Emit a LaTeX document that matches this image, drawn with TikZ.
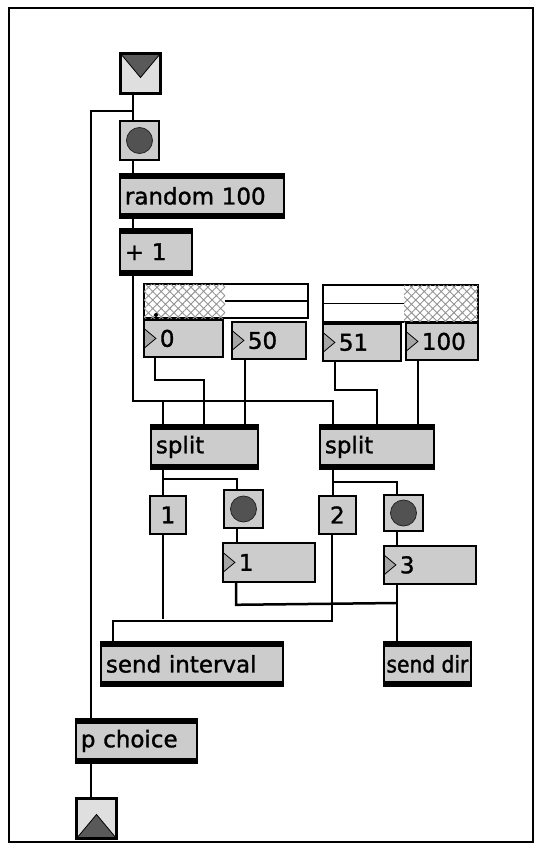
\documentclass[tikz,border=0pt]{standalone}
\usepackage{fontspec}
\setmainfont{DejaVu Sans}
\newfontfamily\patchfamily[FakeBold=1.3]{DejaVu Sans}
\newfontfamily\narrowfamily[FakeBold=1.3, FakeStretch=0.88]{DejaVu Sans}
\usepackage{tikz}
\usetikzlibrary{positioning, patterns.meta}
\newcommand{\patchfont}{\patchfamily\fontsize{23}{26}\selectfont}
\tikzset{
  wire/.style={line width=2.5pt},
  objbox/.style={rectangle, draw=black, line width=1.8pt, fill=gray!40,
                 anchor=north west, align=left, inner xsep=5pt, inner ysep=0pt,
                 minimum height=44pt, font=\patchfont,
                 path picture={
                   \fill[black] (path picture bounding box.north west) rectangle
                     ([yshift=-5pt]path picture bounding box.north east);
                   \fill[black] (path picture bounding box.south west) rectangle
                     ([yshift=5pt]path picture bounding box.south east);}},
  msgbox/.style={rectangle, draw=black, line width=1.8pt, fill=gray!40,
                 anchor=north west, inner sep=0pt, minimum width=36pt,
                 minimum height=38pt, font=\patchfont},
  numbox/.style={rectangle, draw=black, line width=1.8pt, fill=gray!40,
                 anchor=north west, align=left, inner xsep=3pt, inner ysep=0pt,
                 minimum height=37pt, font=\patchfont,
                 execute at begin node={\hspace*{13pt}},
                 path picture={
                   \filldraw[fill=gray!70, draw=black, line width=0.8pt]
                     ([yshift=10pt]path picture bounding box.west) --
                     ([xshift=12pt]path picture bounding box.west) --
                     ([yshift=-10pt]path picture bounding box.west) -- cycle;}},
  bangbox/.style={rectangle, draw=black, line width=2pt, fill=gray!40,
                  anchor=north west, inner sep=0pt, minimum size=39pt,
                  path picture={
                    \filldraw[fill=black!68, draw=black!85, line width=0.8pt]
                      (path picture bounding box.center) circle (13pt);}},
  iolet/.style={rectangle, draw=black, line width=3pt, fill=gray!25,
                anchor=north west, inner sep=0pt, minimum size=40pt},
  inletbox/.style={iolet, path picture={
                  \filldraw[fill=black!65, draw=black, line width=0.8pt]
                    (path picture bounding box.north west) --
                    (path picture bounding box.north east) --
                    ([yshift=-4pt]path picture bounding box.center) -- cycle;}},
  outletbox/.style={iolet, path picture={
                  \filldraw[fill=black!65, draw=black, line width=0.8pt]
                    (path picture bounding box.south west) --
                    (path picture bounding box.south east) --
                    ([yshift=4pt]path picture bounding box.center) -- cycle;}},
  rslider/.style={rectangle, draw=black, line width=2pt, fill=white,
                  anchor=north west, inner sep=0pt, minimum height=34pt},
  hatch/.style={pattern={Hatch[angle=45,distance=6pt,line width=0.9pt]},
                pattern color=gray!85},
}
\begin{document}
\begin{tikzpicture}[x=1pt, y=-1pt]
  \useasboundingbox (0,0) rectangle (538,843);
  \draw[line width=2.2pt] (9,8) rectangle (533,842);

  % main column
  \node[inletbox] (inlet) at (119,52) {};
  \node[bangbox, below=25pt of inlet.south west, anchor=north west] (bang1) {};
  \node[objbox, text width=154pt, below=12pt of bang1.south west, anchor=north west] (random) {random 100};
  \node[objbox, text width=62pt, minimum height=46pt, below=9pt of random.south west, anchor=north west] (plus) {+ 1};

  % range sliders and their number boxes
  \node[rslider, minimum width=164pt] (slider1) at (143,283) {};
  \fill[hatch] ([shift={(1pt,-1pt)}]slider1.north west) rectangle ([shift={(82pt,1pt)}]slider1.south west);
  \draw[line width=1.5pt] ([xshift=82pt]slider1.west) -- ([xshift=-1pt]slider1.east);
  \fill ([shift={(13pt,4pt)}]slider1.south west) circle (2pt);
  \node[rslider, minimum width=155pt, minimum height=37pt] (slider2) at (322,284) {};
  \fill[hatch] ([shift={(-75pt,-1pt)}]slider2.north east) rectangle ([shift={(-1pt,1pt)}]slider2.south east);
  \draw[line width=1.5pt] ([xshift=1pt]slider2.west) -- ([xshift=-75pt]slider2.east);

  \node[numbox, text width=73pt, below=0pt of slider1.south west, anchor=north west] (num0) {0};
  \node[numbox, text width=68pt] (num50) at (231,321) {50};
  \node[numbox, text width=72pt, below=0pt of slider2.south west, anchor=north west] (num51) {51};
  \node[numbox, text width=66pt] (num100) at (405,322) {100};

  % splitting
  \node[objbox, text width=97pt] (split1) at (150,424) {split};
  \node[objbox, text width=104pt] (split2) at (319,424) {split};
  \node[msgbox] (msg1) at (149,495) {1};
  \node[bangbox, minimum height=38pt] (bang2) at (223,489) {};
  \node[numbox, text width=86pt, minimum height=39pt] (nbox1) at (222,542) {1};
  \node[msgbox, minimum width=37pt] (msg2) at (318,495) {2};
  \node[bangbox, minimum height=36pt] (bang3) at (383,494) {};
  \node[numbox, text width=86pt, minimum height=38pt] (nbox3) at (383,545) {3};

  % senders and output
  \node[objbox, text width=172pt] (sendint) at (100,641) {send interval};
  \node[objbox, minimum width=87pt, inner xsep=1pt,
        font=\narrowfamily\fontsize{23}{26}\selectfont] (senddir) at (383,641) {send dir};
  \node[objbox, text width=111pt] (pchoice) at (75,718) {p choice};
  \node[outletbox] (outlet) at (75,797) {};

  \coordinate (bus) at (133,401);
  \coordinate (intj) at (163,619);
  \coordinate (dirj) at (397,603);

  % wires
  \draw[wire] ([xshift=14pt]inlet.south west) -- ([xshift=14pt]bang1.north west);
  \draw[wire] ([xshift=14pt]inlet.south west) -- ++(0,16) -| ([xshift=16pt]pchoice.north west);
  \draw[wire] ([xshift=14pt]bang1.south west) -- ([xshift=14pt]random.north west);
  \draw[wire] ([xshift=14pt]random.south west) -- ([xshift=14pt]plus.north west);
  \draw[wire] ([xshift=14pt]plus.south west) -- (bus) -| ([xshift=14pt]split2.north west);
  \draw[wire] ([xshift=13pt]split1.north west) |- (bus);
  \draw[wire] ([xshift=12pt]num0.south west) -- ++(0,22) -| ([xshift=54pt]split1.north west);
  \draw[wire] ([xshift=14pt]num50.south west) -- ([xshift=95pt]split1.north west);
  \draw[wire] ([xshift=13pt]num51.south west) -- ++(0,28) -| ([xshift=58pt]split2.north west);
  \draw[wire] ([xshift=13pt]num100.south west) -- ([xshift=99pt]split2.north west);
  \draw[wire] ([xshift=13pt]split1.south west) -- ([xshift=14pt]msg1.north west);
  \draw[wire] ([xshift=13pt]split1.south west) -- ++(0,9) -| ([xshift=14pt]bang2.north west);
  \draw[wire] ([xshift=14pt]bang2.south west) -- ([xshift=15pt]nbox1.north west);
  \draw[wire] ([xshift=14pt]split2.south west) -- ([xshift=15pt]msg2.north west);
  \draw[wire] ([xshift=14pt]split2.south west) -- ++(0,12) -| ([xshift=14pt]bang3.north west);
  \draw[wire] ([xshift=14pt]bang3.south west) -- ([xshift=14pt]nbox3.north west);
  \draw[wire] ([xshift=14pt]msg1.south west) -- (intj);
  \draw[wire] ([xshift=14pt]msg2.south west) -- ++(0,86) -| ([xshift=13pt]sendint.north west);
  \draw[wire] ([xshift=14pt]nbox1.south west) -- ++(0,22) -- (dirj);
  \draw[wire] ([xshift=14pt]nbox3.south west) -- ([xshift=14pt]senddir.north west);
  \draw[wire] ([xshift=16pt]pchoice.south west) -- ([xshift=16pt]outlet.north west);
\end{tikzpicture}
\end{document}
